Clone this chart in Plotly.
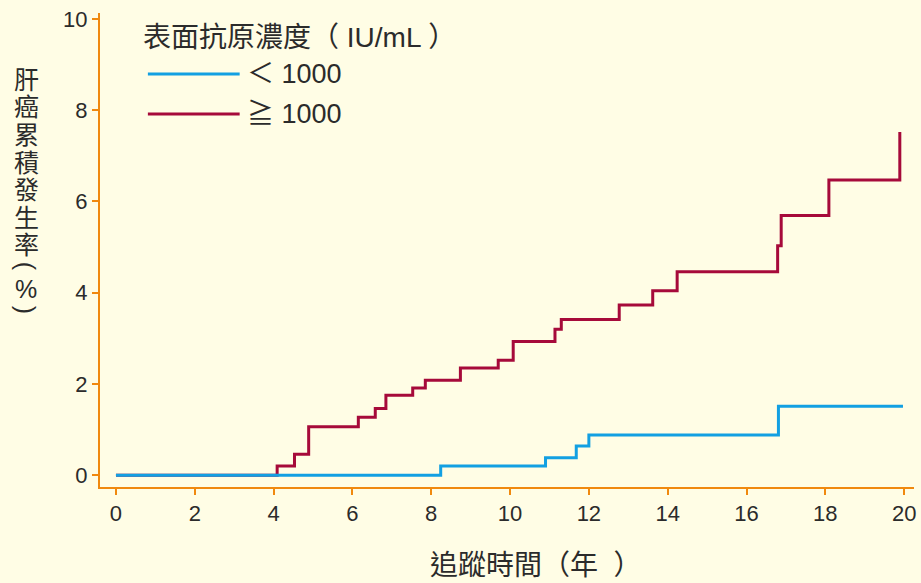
import plotly.graph_objects as go

# ---- data ----
years_low = [0, 8.24, 10.90, 11.68, 12.00, 16.81, 19.97]
rate_low = [0, 0.20, 0.38, 0.64, 0.88, 1.51, 1.51]

years_high = [0, 4.09, 4.53, 4.89, 6.15, 6.58, 6.85, 7.53, 7.85, 8.74, 9.70,
              10.08, 11.14, 11.30, 12.77, 13.62, 14.24, 16.79, 16.88, 18.09, 19.89]
rate_high = [0, 0.20, 0.46, 1.06, 1.27, 1.46, 1.75, 1.91, 2.08, 2.35, 2.52,
             2.93, 3.20, 3.41, 3.73, 4.04, 4.46, 5.03, 5.69, 6.47, 7.52]

series_names = ["＜ 1000", "≧ 1000"]
legend_title = "表面抗原濃度（ IU/mL ）"
x_title = "追蹤時間（年\u00a0\u00a0）"
y_title_chars = ["肝", "癌", "累", "積", "發", "生", "率", "(", "%", ")"]
x_ticks = [0, 2, 4, 6, 8, 10, 12, 14, 16, 18, 20]
y_ticks = [0, 2, 4, 6, 8, 10]

BLUE = "#13A0E2"
RED = "#A60A3A"
ORANGE = "#F0890F"
BG = "#FFFDE5"
TXT = "#2b2b2b"
FONT = "Liberation Sans, Noto Sans CJK TC, sans-serif"

W, H = 921, 583
L, R, T, B = 100, 5, 13, 96
PW, PH = W - L - R, H - T - B


def px(xpix):
    return (xpix - L) / PW


def py(ypix):
    return (H - B - ypix) / PH


fig = go.Figure()
fig.add_trace(go.Scatter(x=years_high, y=rate_high, mode="lines", line_shape="hv",
                         line=dict(color=RED, width=3), name=series_names[1], showlegend=False))
fig.add_trace(go.Scatter(x=years_low, y=rate_low, mode="lines", line_shape="hv",
                         line=dict(color=BLUE, width=3), name=series_names[0], showlegend=False))

annotations = []
shapes = []

# legend (manual)
annotations.append(dict(text=legend_title, xref="paper", yref="paper", x=px(141), y=py(37),
                        xanchor="left", yanchor="middle", showarrow=False,
                        font=dict(size=28, color=TXT, family=FONT)))
for name, color, ypix in [(series_names[0], BLUE, 74), (series_names[1], RED, 114)]:
    shapes.append(dict(type="line", xref="paper", yref="paper", x0=px(148), x1=px(240),
                       y0=py(ypix), y1=py(ypix), line=dict(color=color, width=3)))
    annotations.append(dict(text=name, xref="paper", yref="paper", x=px(245), y=py(ypix),
                            xanchor="left", yanchor="middle", showarrow=False,
                            font=dict(size=27, color=TXT, family=FONT)))

# x axis title
annotations.append(dict(text=x_title, xref="paper", yref="paper", x=px(430), y=py(565),
                        xanchor="left", yanchor="middle", showarrow=False, borderpad=0,
                        font=dict(size=28, color=TXT, family=FONT)))

# y axis title (vertical, character by character; parentheses turned sideways)
y_centers = [79.5, 107.5, 134.5, 162.5, 190, 217.5, 245, 266, 289.5, 310]
for ch, yc in zip(y_title_chars, y_centers):
    ang = 90 if ch in "()" else 0
    annotations.append(dict(text=ch, xref="paper", yref="paper", x=px(26), y=py(yc),
                            xanchor="center", yanchor="middle", showarrow=False,
                            textangle=ang, borderpad=0,
                            font=dict(size=25, color=TXT, family=FONT)))

axis_common = dict(showline=True, linecolor=ORANGE, linewidth=2, ticks="outside",
                   tickcolor=ORANGE, ticklen=6, tickwidth=2, showgrid=False, zeroline=False,
                   tickfont=dict(size=22, color=TXT, family=FONT), mirror=False)

fig.update_layout(
    width=W, height=H,
    margin=dict(l=L, r=R, t=T, b=B),
    paper_bgcolor=BG, plot_bgcolor=BG,
    showlegend=False,
    xaxis=dict(range=[-0.405, 20.25], tickvals=x_ticks, **axis_common),
    yaxis=dict(range=[-0.26, 10.13], tickvals=y_ticks, **axis_common),
    annotations=annotations,
    shapes=shapes,
)

fig.write_html("out.html", config={"displayModeBar": False},
               post_script="document.body.style.margin='0';document.body.style.overflow='hidden';")
